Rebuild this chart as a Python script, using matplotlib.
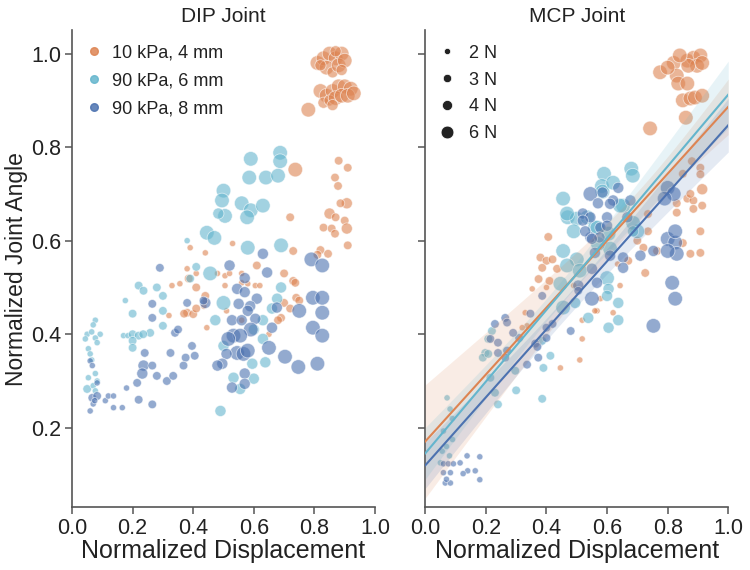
import numpy as np
import matplotlib
matplotlib.use("Agg")
import matplotlib.pyplot as plt
from matplotlib.lines import Line2D

plt.rcParams['font.family'] = ['Liberation Sans', 'DejaVu Sans']

# (displacement, joint angle, force in N) for each actuator
dip_10_4 = [
    (0.81, 0.98, 6), (0.83, 0.99, 6), (0.85, 1.00, 6), (0.87, 0.99, 6), (0.89, 1.00, 6), (0.84, 0.97, 6),
    (0.86, 0.96, 4), (0.88, 0.975, 6), (0.90, 0.985, 6), (0.82, 0.975, 4), (0.87, 1.005, 4), (0.89, 0.965, 4),
    (0.82, 0.92, 6), (0.84, 0.91, 6), (0.86, 0.92, 6), (0.88, 0.93, 6), (0.90, 0.93, 6), (0.92, 0.925, 6),
    (0.83, 0.895, 4), (0.85, 0.90, 4), (0.87, 0.905, 6), (0.89, 0.91, 6), (0.91, 0.91, 6), (0.93, 0.915, 6),
    (0.86, 0.89, 4), (0.78, 0.88, 6),
    (0.88, 0.771, 3), (0.91, 0.756, 3), (0.868, 0.735, 3), (0.878, 0.717, 3), (0.907, 0.68, 4), (0.886, 0.68, 3),
    (0.85, 0.658, 4), (0.87, 0.65, 3), (0.90, 0.643, 3), (0.83, 0.628, 3), (0.857, 0.626, 3), (0.907, 0.626, 4),
    (0.868, 0.615, 3), (0.91, 0.59, 3), (0.82, 0.58, 3), (0.845, 0.572, 3), (0.81, 0.57, 3), (0.737, 0.752, 6),
    (0.72, 0.65, 3), (0.73, 0.578, 3),
    (0.39, 0.585, 2), (0.44, 0.574, 2), (0.53, 0.594, 2), (0.38, 0.54, 2), (0.41, 0.53, 2), (0.48, 0.53, 2),
    (0.505, 0.525, 2), (0.56, 0.53, 2), (0.61, 0.547, 3), (0.70, 0.53, 3), (0.73, 0.514, 3), (0.58, 0.508, 2),
    (0.52, 0.53, 2), (0.737, 0.51, 3), (0.56, 0.51, 2), (0.605, 0.504, 2), (0.62, 0.504, 2), (0.505, 0.504, 2),
    (0.74, 0.478, 3), (0.75, 0.472, 3), (0.70, 0.467, 3), (0.72, 0.455, 3), (0.69, 0.435, 3), (0.68, 0.43, 3),
    (0.44, 0.47, 2), (0.435, 0.46, 2), (0.51, 0.45, 2), (0.56, 0.43, 2), (0.445, 0.414, 2), (0.65, 0.40, 2),
    (0.33, 0.504, 2), (0.356, 0.508, 2), (0.385, 0.519, 3), (0.41, 0.50, 3), (0.44, 0.482, 3), (0.38, 0.446, 3),
    (0.40, 0.443, 3), (0.41, 0.455, 3), (0.37, 0.444, 3), (0.32, 0.44, 2),
]
dip_90_6 = [
    (0.687, 0.788, 6), (0.687, 0.770, 6), (0.59, 0.775, 6), (0.585, 0.735, 6), (0.64, 0.735, 6), (0.68, 0.739, 6),
    (0.50, 0.707, 6), (0.495, 0.686, 6), (0.56, 0.68, 6), (0.59, 0.665, 6), (0.63, 0.675, 6), (0.578, 0.650, 6),
    (0.505, 0.653, 6), (0.483, 0.658, 4), (0.445, 0.617, 6), (0.47, 0.606, 6), (0.38, 0.60, 2), (0.58, 0.585, 6),
    (0.69, 0.59, 6), (0.456, 0.53, 6), (0.69, 0.50, 4), (0.41, 0.544, 3), (0.39, 0.519, 3), (0.50, 0.467, 6),
    (0.473, 0.43, 4), (0.677, 0.476, 4), (0.66, 0.455, 4), (0.63, 0.43, 4), (0.60, 0.41, 4), (0.50, 0.375, 4),
    (0.63, 0.39, 4), (0.638, 0.34, 4), (0.595, 0.337, 4), (0.533, 0.307, 4), (0.60, 0.305, 4), (0.555, 0.283, 4),
    (0.49, 0.236, 4),
    (0.22, 0.504, 3), (0.236, 0.493, 3), (0.28, 0.50, 3), (0.30, 0.482, 3), (0.176, 0.472, 2), (0.20, 0.444, 3),
    (0.30, 0.45, 3), (0.258, 0.403, 3), (0.17, 0.397, 2), (0.185, 0.397, 2), (0.20, 0.40, 3), (0.22, 0.397, 3),
    (0.235, 0.40, 3), (0.20, 0.386, 3), (0.20, 0.371, 3), (0.30, 0.418, 3), (0.077, 0.43, 2), (0.07, 0.42, 2),
    (0.05, 0.40, 2), (0.065, 0.405, 2), (0.093, 0.40, 2), (0.044, 0.39, 2), (0.077, 0.392, 2), (0.083, 0.382, 2),
    (0.054, 0.369, 2), (0.06, 0.358, 2), (0.065, 0.345, 2), (0.054, 0.307, 2), (0.077, 0.316, 2), (0.083, 0.30, 2),
    (0.05, 0.283, 3), (0.07, 0.29, 2), (0.077, 0.279, 2),
]
dip_90_8 = [
    (0.79, 0.56, 6), (0.826, 0.547, 6), (0.52, 0.547, 4), (0.63, 0.572, 4), (0.644, 0.532, 4), (0.57, 0.52, 4),
    (0.29, 0.542, 3), (0.545, 0.497, 4), (0.57, 0.49, 4), (0.61, 0.476, 4), (0.795, 0.478, 6), (0.826, 0.478, 6),
    (0.826, 0.446, 6), (0.75, 0.45, 6), (0.676, 0.457, 4), (0.55, 0.465, 4), (0.588, 0.46, 4), (0.58, 0.45, 4),
    (0.528, 0.43, 4), (0.605, 0.433, 4), (0.56, 0.43, 4), (0.66, 0.414, 4), (0.795, 0.414, 6), (0.826, 0.397, 6),
    (0.59, 0.41, 6), (0.533, 0.397, 6), (0.555, 0.397, 6), (0.516, 0.39, 6), (0.65, 0.371, 6), (0.703, 0.352, 6),
    (0.747, 0.33, 6), (0.81, 0.337, 6), (0.545, 0.36, 6), (0.566, 0.358, 6), (0.58, 0.365, 6), (0.51, 0.358, 4),
    (0.496, 0.337, 4), (0.48, 0.333, 4), (0.57, 0.316, 4), (0.57, 0.294, 4), (0.528, 0.286, 4), (0.44, 0.467, 4),
    (0.265, 0.465, 3), (0.38, 0.467, 3), (0.434, 0.472, 3), (0.265, 0.435, 3), (0.34, 0.403, 3), (0.35, 0.41, 3),
    (0.24, 0.36, 3), (0.325, 0.36, 3), (0.396, 0.375, 3), (0.375, 0.35, 3), (0.405, 0.354, 3), (0.236, 0.333, 4),
    (0.265, 0.333, 3), (0.368, 0.333, 3), (0.232, 0.316, 4), (0.28, 0.311, 3), (0.313, 0.30, 3), (0.334, 0.311, 3),
    (0.215, 0.296, 3), (0.18, 0.285, 2), (0.22, 0.26, 3), (0.265, 0.25, 3), (0.166, 0.243, 2), (0.137, 0.243, 2),
    (0.11, 0.258, 2), (0.12, 0.268, 2), (0.137, 0.268, 2), (0.067, 0.264, 3), (0.083, 0.268, 3), (0.07, 0.251, 2),
    (0.06, 0.236, 2), (0.06, 0.343, 2), (0.067, 0.333, 2), (0.083, 0.296, 2), (0.075, 0.258, 2),
]

mcp_10_4 = [
    (0.775, 0.96, 6), (0.82, 0.98, 6), (0.865, 0.985, 6), (0.885, 0.991, 6), (0.908, 0.996, 6), (0.897, 0.974, 6),
    (0.868, 0.974, 6), (0.83, 0.953, 6), (0.835, 0.936, 6), (0.865, 0.936, 6), (0.85, 0.90, 6), (0.875, 0.904, 6),
    (0.89, 0.906, 6), (0.914, 0.91, 6), (0.86, 0.863, 6), (0.742, 0.84, 6), (0.84, 0.996, 6), (0.914, 0.98, 6),
    (0.80, 0.97, 6),
    (0.88, 0.77, 3), (0.908, 0.756, 3), (0.85, 0.743, 3), (0.908, 0.742, 3), (0.83, 0.68, 3), (0.865, 0.69, 3),
    (0.885, 0.686, 3), (0.914, 0.71, 4), (0.875, 0.70, 3), (0.914, 0.675, 3), (0.885, 0.668, 3), (0.83, 0.66, 3),
    (0.908, 0.62, 3), (0.875, 0.572, 3), (0.908, 0.574, 3), (0.735, 0.657, 3), (0.735, 0.62, 3), (0.70, 0.60, 3),
    (0.72, 0.585, 3), (0.765, 0.578, 3), (0.726, 0.531, 3), (0.85, 0.595, 3), (0.67, 0.557, 3), (0.635, 0.55, 2),
    (0.406, 0.608, 3), (0.38, 0.564, 3), (0.40, 0.557, 3), (0.42, 0.56, 3), (0.386, 0.542, 3), (0.435, 0.54, 3),
    (0.374, 0.518, 3), (0.41, 0.514, 3), (0.353, 0.497, 2), (0.40, 0.50, 2), (0.49, 0.504, 2), (0.643, 0.504, 2),
    (0.567, 0.45, 2), (0.518, 0.43, 2), (0.518, 0.39, 2), (0.62, 0.446, 2), (0.578, 0.476, 2), (0.33, 0.446, 2),
    (0.336, 0.418, 2), (0.51, 0.345, 2), (0.446, 0.328, 2), (0.32, 0.414, 2), (0.56, 0.45, 2),
]
mcp_90_6 = [
    (0.59, 0.743, 6), (0.68, 0.754, 6), (0.685, 0.739, 6), (0.455, 0.69, 6), (0.583, 0.717, 6), (0.585, 0.705, 6),
    (0.47, 0.65, 6), (0.50, 0.647, 6), (0.535, 0.65, 6), (0.56, 0.628, 6), (0.605, 0.615, 6), (0.653, 0.675, 6),
    (0.70, 0.62, 6), (0.61, 0.583, 6), (0.50, 0.56, 6), (0.468, 0.547, 6), (0.446, 0.508, 6), (0.468, 0.658, 6),
    (0.49, 0.62, 6), (0.455, 0.578, 6), (0.51, 0.536, 6), (0.57, 0.593, 6), (0.62, 0.724, 6), (0.686, 0.638, 6),
    (0.686, 0.62, 4), (0.60, 0.52, 6), (0.605, 0.497, 4), (0.637, 0.467, 4), (0.538, 0.435, 4), (0.495, 0.467, 4),
    (0.605, 0.414, 4), (0.637, 0.43, 4), (0.568, 0.628, 6), (0.643, 0.675, 6), (0.455, 0.457, 6), (0.60, 0.482, 4),
    (0.413, 0.354, 3), (0.39, 0.328, 3), (0.386, 0.262, 3), (0.30, 0.28, 3), (0.297, 0.322, 3), (0.24, 0.25, 3),
    (0.22, 0.407, 3), (0.198, 0.36, 3), (0.19, 0.35, 3), (0.23, 0.275, 3), (0.215, 0.307, 3), (0.386, 0.386, 3),
    (0.208, 0.358, 3), (0.208, 0.39, 3),
    (0.072, 0.264, 2), (0.082, 0.24, 2), (0.089, 0.22, 2), (0.06, 0.193, 2), (0.056, 0.15, 2), (0.08, 0.14, 2),
    (0.05, 0.125, 2), (0.07, 0.16, 2), (0.09, 0.175, 2),
]
mcp_90_8 = [
    (0.545, 0.70, 6), (0.585, 0.703, 4), (0.62, 0.686, 4), (0.677, 0.686, 4), (0.80, 0.713, 6), (0.82, 0.70, 6),
    (0.79, 0.69, 6), (0.57, 0.68, 4), (0.61, 0.679, 4), (0.52, 0.658, 4), (0.545, 0.65, 4), (0.60, 0.65, 4),
    (0.667, 0.65, 4), (0.52, 0.643, 4), (0.578, 0.628, 4), (0.60, 0.632, 4), (0.545, 0.607, 4), (0.575, 0.607, 4),
    (0.80, 0.604, 6), (0.825, 0.596, 6), (0.83, 0.572, 6), (0.80, 0.578, 6), (0.753, 0.578, 4), (0.653, 0.564, 4),
    (0.71, 0.568, 4), (0.61, 0.568, 4), (0.56, 0.574, 4), (0.55, 0.54, 4), (0.653, 0.542, 4), (0.815, 0.51, 6),
    (0.505, 0.504, 4), (0.567, 0.51, 4), (0.637, 0.713, 4), (0.528, 0.62, 4), (0.55, 0.604, 4), (0.825, 0.62, 6),
    (0.825, 0.476, 6), (0.55, 0.476, 6), (0.753, 0.418, 6), (0.42, 0.422, 3), (0.48, 0.407, 3), (0.386, 0.482, 3),
    (0.347, 0.444, 3), (0.40, 0.414, 3), (0.31, 0.392, 3), (0.363, 0.38, 3), (0.264, 0.435, 3), (0.27, 0.425, 3),
    (0.23, 0.422, 3), (0.40, 0.392, 3), (0.37, 0.373, 3), (0.373, 0.35, 3), (0.336, 0.335, 3), (0.29, 0.403, 3),
    (0.215, 0.39, 3), (0.24, 0.382, 3), (0.24, 0.36, 3), (0.27, 0.365, 3), (0.264, 0.35, 3), (0.505, 0.493, 3),
    (0.06, 0.123, 2), (0.076, 0.123, 2), (0.083, 0.104, 2), (0.06, 0.104, 2), (0.066, 0.082, 2), (0.083, 0.082, 2),
    (0.115, 0.125, 2), (0.138, 0.14, 2), (0.14, 0.108, 2), (0.125, 0.102, 2), (0.165, 0.108, 2), (0.18, 0.138, 2),
    (0.18, 0.089, 2), (0.093, 0.123, 2), (0.07, 0.09, 2),
]

labels = ["10 kPa, 4 mm", "90 kPa, 6 mm", "90 kPa, 8 mm"]
colors = ["#DD8452", "#64B5CD", "#4C72B0"]
forces = [2, 3, 4, 6]
size_of = {2: 20, 3: 38, 4: 64, 6: 110}

fig = plt.figure(figsize=(7.5, 5.7), dpi=100)
ax1 = fig.add_axes([0.096, 0.11, 0.404, 0.837])
ax2 = fig.add_axes([0.567, 0.11, 0.404, 0.837], sharey=ax1)


def draw_points(ax, groups):
    for pts, c in zip(groups, colors):
        x, y, f = zip(*pts)
        ax.scatter(x, y, s=[size_of[v] for v in f], color=c, alpha=0.6,
                   edgecolors="white", linewidths=0.6, zorder=2)


draw_points(ax1, [dip_10_4, dip_90_6, dip_90_8])
draw_points(ax2, [mcp_10_4, mcp_90_6, mcp_90_8])

# linear fits with 95% confidence band on the MCP panel
xs = np.linspace(0, 1, 100)
for pts, c in zip([mcp_10_4, mcp_90_6, mcp_90_8], colors):
    x, y, f = map(np.array, zip(*pts))
    b, a = np.polyfit(x, y, 1)
    n = len(x)
    resid = y - (a + b * x)
    s = np.sqrt(np.sum(resid ** 2) / (n - 2))
    sxx = np.sum((x - x.mean()) ** 2)
    se = s * np.sqrt(1.0 / n + (xs - x.mean()) ** 2 / sxx)
    fit = a + b * xs
    ax2.fill_between(xs, fit - 1.97 * se, fit + 1.97 * se, color=c, alpha=0.15, linewidth=0, zorder=3)
    ax2.plot(xs, fit, color=c, lw=1.5, zorder=4)

for ax, title in [(ax1, "DIP Joint"), (ax2, "MCP Joint")]:
    ax.set_xlim(0, 1.0)
    ax.set_ylim(0.03, 1.05)
    ax.set_xticks([0.0, 0.2, 0.4, 0.6, 0.8, 1.0])
    ax.set_yticks([0.2, 0.4, 0.6, 0.8, 1.0])
    ax.spines["top"].set_visible(False)
    ax.spines["right"].set_visible(False)
    for sp in ["left", "bottom"]:
        ax.spines[sp].set_color("#555555")
        ax.spines[sp].set_linewidth(1.2)
    ax.tick_params(labelsize=15.5, length=5, width=1.1, color="#555555", labelcolor="#222222", pad=3)
    ax.set_title(title, fontsize=15, color="#222222", pad=6)
    ax.set_xlabel("Normalized Displacement", fontsize=18, color="#222222", labelpad=0)

ax2.tick_params(axis="y", labelleft=False)
ax1.set_ylabel("Normalized Joint Angle", fontsize=16.5, color="#222222", labelpad=2)

hue_handles = [Line2D([], [], ls="", marker="o", markersize=5.5, color=c, alpha=0.85) for c in colors]
ax1.legend(hue_handles, labels, loc="upper left", frameon=False, fontsize=13,
           handletextpad=0.2, handlelength=1.6, labelspacing=0.6, borderaxespad=0.0,
           bbox_to_anchor=(0.0, 0.985), labelcolor="#222222")

size_handles = [Line2D([], [], ls="", marker="o", markersize=m, color="#222222", markeredgecolor="white",
                       markeredgewidth=0.5) for m in [4.5, 6.0, 7.3, 9.2]]
ax2.legend(size_handles, [f"{f} N" for f in forces], loc="upper left", frameon=False, fontsize=13,
           handletextpad=0.4, handlelength=1.6, labelspacing=0.55, borderaxespad=0.0,
           bbox_to_anchor=(0.0, 0.985), labelcolor="#222222")

fig.savefig("out.png", dpi=100)
